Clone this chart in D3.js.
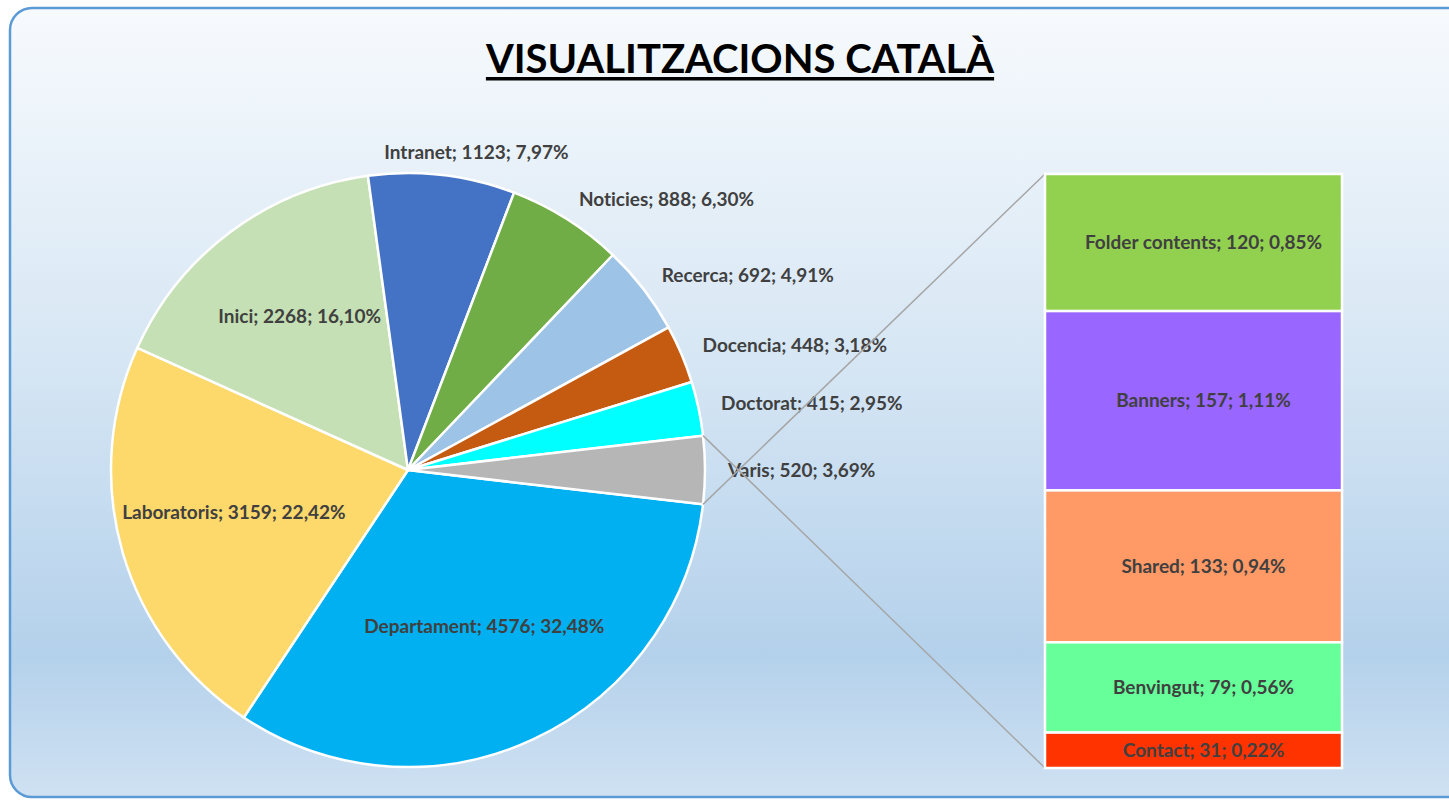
<!DOCTYPE html>
<html>
<head>
<meta charset="utf-8">
<script src="https://cdn.jsdelivr.net/npm/d3@7"></script>
<style>
body { margin: 0; background: #fff; }
text { font-family: Lato, "Open Sans", sans-serif; font-variant-ligatures: none; }
</style>
</head>
<body>
<svg id="chart" width="1449" height="800"></svg>
<script>
// main pie (Varis = the rest, split out in the bar)
var pieNames = ["Departament", "Laboratoris", "Inici", "Intranet", "Noticies", "Recerca", "Docencia", "Doctorat", "Varis"];
var pieValues = [4576, 3159, 2268, 1123, 888, 692, 448, 415, 520];
var pieColors = ["#00b0f0", "#fdd86b", "#c5e0b4", "#4472c4", "#70ad47", "#9dc3e6", "#c55a11", "#00ffff", "#b6b6b6"];

// secondary bar
var barNames = ["Folder contents", "Banners", "Shared", "Benvingut", "Contact"];
var barValues = [120, 157, 133, 79, 31];
var barColors = ["#92d050", "#9966ff", "#ff9966", "#66ff99", "#ff3300"];

var svg = d3.select("#chart");
var total = d3.sum(pieValues);
var fmtPct = function (v) { return (v / total * 100).toFixed(2).replace(".", ",") + "%"; };

// background panel
var defs = svg.append("defs");
var grad = defs.append("linearGradient").attr("id", "bg").attr("x1", 0).attr("y1", 0).attr("x2", 0).attr("y2", 1);
grad.append("stop").attr("offset", "0%").attr("stop-color", "#f7fafd");
grad.append("stop").attr("offset", "45%").attr("stop-color", "#d6e6f4");
grad.append("stop").attr("offset", "82%").attr("stop-color", "#b4d1eb");
grad.append("stop").attr("offset", "100%").attr("stop-color", "#cfe1f2");

svg.append("rect")
    .attr("x", 10).attr("y", 8)
    .attr("width", 1470).attr("height", 789)
    .attr("rx", 22).attr("ry", 22)
    .attr("fill", "url(#bg)")
    .attr("stroke", "#5b9bd5")
    .attr("stroke-width", 2.5);

// title
var title = svg.append("text")
    .attr("x", 740).attr("y", 73)
    .attr("text-anchor", "middle")
    .style("font-size", "40px")
    .style("font-weight", "bold")
    .attr("fill", "#000")
    .text("VISUALITZACIONS CATALÀ");
var tw = title.node().getComputedTextLength();
svg.append("rect")
    .attr("x", 740 - tw / 2).attr("y", 77)
    .attr("width", tw).attr("height", 3.5)
    .attr("fill", "#000");

// pie
var cx = 408, cy = 470, r = 297;
var half = Math.PI * pieValues[pieValues.length - 1] / total;
var start = Math.PI / 2 + half;

var pieData = d3.pie().sort(null)
    .startAngle(start).endAngle(start + 2 * Math.PI)
    .value(function (d) { return d.value; })
    (pieNames.map(function (n, i) { return { name: n, value: pieValues[i], color: pieColors[i] }; }));

var arc = d3.arc().innerRadius(0).outerRadius(r);
var arcInner = d3.arc().innerRadius(0).outerRadius(r * 1.22);

var gPie = svg.append("g").attr("transform", "translate(" + cx + "," + cy + ")");

// bar geometry
var bx0 = 1045, bx1 = 1342, by0 = 174, by1 = 768;
var y = d3.scaleLinear().domain([0, d3.sum(barValues)]).range([by0, by1]);

// connector lines from the Varis slice to the bar
var other = pieData[pieData.length - 1];
function edge(a) { return [cx + r * Math.sin(a), cy - r * Math.cos(a)]; }
var pTop = edge(other.endAngle), pBot = edge(other.startAngle);
svg.append("line")
    .attr("x1", pTop[0]).attr("y1", pTop[1]).attr("x2", bx0).attr("y2", y(0))
    .attr("stroke", "#a6a6a6").attr("stroke-width", 1.5);
svg.append("line")
    .attr("x1", pBot[0]).attr("y1", pBot[1]).attr("x2", bx0).attr("y2", y(d3.sum(barValues)))
    .attr("stroke", "#a6a6a6").attr("stroke-width", 1.5);

gPie.selectAll("path")
    .data(pieData).enter()
    .append("path")
    .attr("d", arc)
    .attr("fill", function (d) { return d.data.color; })
    .attr("stroke", "#fff")
    .attr("stroke-width", 2.5)
    .attr("stroke-linejoin", "round");

// pie labels
gPie.selectAll(".plabel")
    .data(pieData).enter()
    .append("text")
    .attr("class", "plabel")
    .attr("text-anchor", "middle")
    .attr("dy", "0.35em")
    .style("font-size", "19px")
    .style("font-weight", "bold")
    .attr("fill", "#404040")
    .text(function (d) { return d.data.name + "; " + d.data.value + "; " + fmtPct(d.data.value); })
    .each(function (d) {
        var t = d3.select(this);
        var share = d.data.value / total;
        if (share > 0.1) {
            var c = arcInner.centroid(d);
            t.attr("x", c[0]).attr("y", c[1] - 8);
        } else {
            var w = this.getComputedTextLength();
            var a = (d.startAngle + d.endAngle) / 2;
            var s = Math.sin(a), co = Math.cos(a);
            var ax = (r + 23) * s, ay = -(r + 23) * co;
            t.attr("x", ax + (w / 2) * Math.min(1, 3 * s)).attr("y", ay);
        }
    });

// bar of the rest
var cum = 0;
var barData = barNames.map(function (n, i) {
    var d = { name: n, value: barValues[i], color: barColors[i], y0: cum, y1: cum + barValues[i] };
    cum += barValues[i];
    return d;
});

var gBar = svg.append("g");
gBar.selectAll("rect")
    .data(barData).enter()
    .append("rect")
    .attr("x", bx0)
    .attr("y", function (d) { return y(d.y0); })
    .attr("width", bx1 - bx0)
    .attr("height", function (d) { return y(d.y1) - y(d.y0); })
    .attr("fill", function (d) { return d.color; })
    .attr("stroke", "#fff")
    .attr("stroke-width", 2.5);

gBar.selectAll("text")
    .data(barData).enter()
    .append("text")
    .attr("x", (bx0 + bx1) / 2 + 10)
    .attr("y", function (d) { return (y(d.y0) + y(d.y1)) / 2; })
    .attr("dy", "0.35em")
    .attr("text-anchor", "middle")
    .style("font-size", "19px")
    .style("font-weight", "bold")
    .attr("fill", "#404040")
    .text(function (d) { return d.name + "; " + d.value + "; " + fmtPct(d.value); });
</script>
</body>
</html>
